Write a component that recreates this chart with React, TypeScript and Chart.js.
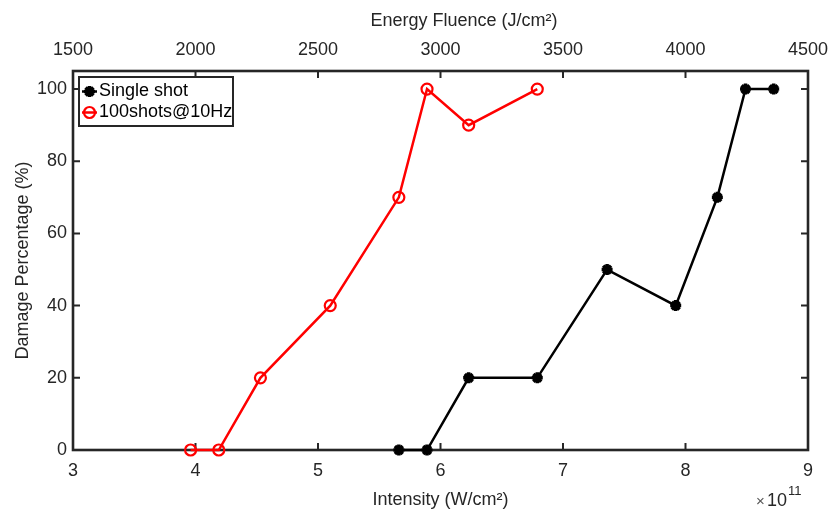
import React, { useEffect, useRef } from 'react';
import { Chart, registerables } from 'chart.js';

Chart.register(...registerables);

// ---- data (intensity in units of 1e11 W/cm^2, damage in %) ----
const seriesLabels = ['Single shot', '100shots@10Hz'];
const singleShotIntensity = [5.66, 5.89, 6.23, 6.79, 7.36, 7.92, 8.26, 8.49, 8.72];
const singleShotDamage = [0, 0, 20, 20, 50, 40, 70, 100, 100];
const multiShotIntensity = [3.96, 4.19, 4.53, 5.10, 5.66, 5.89, 6.23, 6.79];
const multiShotDamage = [0, 0, 20, 40, 70, 100, 90, 100];

const intensityTicks = [3, 4, 5, 6, 7, 8, 9];
const fluenceTicks = [1500, 2000, 2500, 3000, 3500, 4000, 4500];
const damageTicks = [0, 20, 40, 60, 80, 100];

const xTitle = 'Intensity (W/cm²)';
const x2Title = 'Energy Fluence (J/cm²)';
const yTitle = 'Damage Percentage (%)';

const FONT = '"Liberation Sans", Arial, Helvetica, sans-serif';
const INK = '#262626';
const RED = '#ff0000';
const BLACK = '#000000';

function drawStar(ctx: CanvasRenderingContext2D, x: number, y: number, r: number, color: string, w: number) {
  ctx.save();
  ctx.strokeStyle = color;
  ctx.lineWidth = w;
  ctx.beginPath();
  for (let k = 0; k < 4; k++) {
    const a = (k * Math.PI) / 4;
    ctx.moveTo(x - r * Math.cos(a), y - r * Math.sin(a));
    ctx.lineTo(x + r * Math.cos(a), y + r * Math.sin(a));
  }
  ctx.stroke();
  ctx.restore();
}

const framePlugin = {
  id: 'matlabFrame',
  beforeDatasetsDraw(chart: any) {
    const { ctx, chartArea } = chart;
    const { left, right, top, bottom } = chartArea;
    const xs = chart.scales.x;
    const x2 = chart.scales.x2;
    const ys = chart.scales.y;
    const tl = 7;
    ctx.save();
    ctx.strokeStyle = INK;
    ctx.lineWidth = 2;
    ctx.beginPath();
    intensityTicks.forEach((v) => {
      const px = xs.getPixelForValue(v);
      ctx.moveTo(px, bottom);
      ctx.lineTo(px, bottom - tl);
    });
    fluenceTicks.forEach((v) => {
      const px = x2.getPixelForValue(v);
      ctx.moveTo(px, top);
      ctx.lineTo(px, top + tl);
    });
    damageTicks.forEach((v) => {
      const py = ys.getPixelForValue(v);
      ctx.moveTo(left, py);
      ctx.lineTo(left + tl, py);
      ctx.moveTo(right, py);
      ctx.lineTo(right - tl, py);
    });
    ctx.stroke();
    ctx.lineWidth = 2.6;
    ctx.strokeRect(left, top, right - left, bottom - top);
    ctx.restore();
  },
  afterDraw(chart: any) {
    const { ctx, chartArea } = chart;
    ctx.save();
    // top axis title
    ctx.fillStyle = INK;
    ctx.font = `18px ${FONT}`;
    ctx.textAlign = 'center';
    ctx.textBaseline = 'middle';
    ctx.fillText(x2Title, 464, 21);

    // x10^11 exponent
    ctx.textAlign = 'left';
    ctx.fillStyle = '#555555';
    ctx.font = `15px ${FONT}`;
    ctx.fillText('×', 756, 502);
    ctx.fillStyle = INK;
    ctx.font = `18px ${FONT}`;
    ctx.fillText('10', 767, 501);
    ctx.font = `13px ${FONT}`;
    ctx.fillText('11', 788, 491);

    // legend
    const lx = chartArea.left + 6;
    const ly = chartArea.top + 6;
    const lw = 154;
    const lh = 49;
    ctx.fillStyle = '#ffffff';
    ctx.fillRect(lx, ly, lw, lh);
    ctx.strokeStyle = INK;
    ctx.lineWidth = 2;
    ctx.strokeRect(lx, ly, lw, lh);
    const rows = [ly + 14.5, ly + 35.5];
    const mx = lx + 10.5;
    // single shot
    ctx.strokeStyle = BLACK;
    ctx.lineWidth = 2.5;
    ctx.beginPath();
    ctx.moveTo(lx + 3, rows[0]);
    ctx.lineTo(lx + 18, rows[0]);
    ctx.stroke();
    drawStar(ctx, mx, rows[0], 5.5, BLACK, 3.5);
    // multi shot
    ctx.strokeStyle = RED;
    ctx.beginPath();
    ctx.moveTo(lx + 3, rows[1]);
    ctx.lineTo(lx + 18, rows[1]);
    ctx.stroke();
    ctx.lineWidth = 2.2;
    ctx.beginPath();
    ctx.arc(mx, rows[1], 5.5, 0, Math.PI * 2);
    ctx.stroke();
    ctx.fillStyle = BLACK;
    ctx.font = `18px ${FONT}`;
    ctx.textAlign = 'left';
    ctx.textBaseline = 'middle';
    ctx.fillText(seriesLabels[0], lx + 20, rows[0]);
    ctx.fillText(seriesLabels[1], lx + 20, rows[1]);
    ctx.restore();
  },
};

export default function App() {
  const canvasRef = useRef<HTMLCanvasElement | null>(null);

  useEffect(() => {
    document.body.style.margin = '0';
    const canvas = canvasRef.current;
    if (!canvas) return;

    const chart = new Chart(canvas, {
      type: 'scatter',
      data: {
        datasets: [
          {
            label: seriesLabels[0],
            data: singleShotIntensity.map((x, i) => ({ x, y: singleShotDamage[i] })),
            showLine: true,
            borderColor: BLACK,
            backgroundColor: BLACK,
            borderWidth: 2.5,
            pointStyle: 'star',
            pointRadius: 5.5,
            pointBorderWidth: 3.5,
            pointBorderColor: BLACK,
            clip: false as any,
          },
          {
            label: seriesLabels[1],
            data: multiShotIntensity.map((x, i) => ({ x, y: multiShotDamage[i] })),
            showLine: true,
            borderColor: RED,
            backgroundColor: 'rgba(0,0,0,0)',
            borderWidth: 2.5,
            pointStyle: 'circle',
            pointRadius: 5.5,
            pointBorderWidth: 2.2,
            pointBorderColor: RED,
            pointBackgroundColor: 'rgba(0,0,0,0)',
            clip: false as any,
          },
        ],
      },
      options: {
        responsive: false,
        animation: false,
        devicePixelRatio: 1,
        layout: { padding: { left: 0, right: 26, top: 0, bottom: 0 } },
        plugins: {
          legend: { display: false },
          tooltip: { enabled: false },
        },
        scales: {
          x: {
            type: 'linear',
            position: 'bottom',
            min: 3,
            max: 9,
            afterBuildTicks: (s: any) => {
              s.ticks = intensityTicks.map((v) => ({ value: v }));
            },
            ticks: {
              font: { family: FONT, size: 18 },
              color: INK,
              padding: 10,
              maxRotation: 0,
              autoSkip: false,
              callback: (v: any) => String(v),
            },
            grid: { display: false, drawTicks: false },
            border: { display: false },
            title: {
              display: true,
              text: xTitle,
              color: INK,
              font: { family: FONT, size: 18 },
              padding: { top: 0, bottom: 4 },
            },
            afterFit: (s: any) => {
              s.height = 65;
              s.paddingLeft = 0;
              s.paddingRight = 0;
            },
          },
          x2: {
            type: 'linear',
            position: 'top',
            min: 1500,
            max: 4500,
            afterBuildTicks: (s: any) => {
              s.ticks = fluenceTicks.map((v) => ({ value: v }));
            },
            ticks: {
              font: { family: FONT, size: 18 },
              color: INK,
              padding: 10,
              maxRotation: 0,
              autoSkip: false,
              callback: (v: any) => String(v),
            },
            grid: { display: false, drawTicks: false },
            border: { display: false },
            afterFit: (s: any) => {
              s.height = 71;
              s.paddingLeft = 0;
              s.paddingRight = 0;
            },
          },
          y: {
            type: 'linear',
            position: 'left',
            min: 0,
            max: 105,
            afterBuildTicks: (s: any) => {
              s.ticks = damageTicks.map((v) => ({ value: v }));
            },
            ticks: {
              font: { family: FONT, size: 18 },
              color: INK,
              padding: 6,
              autoSkip: false,
              callback: (v: any) => String(v),
            },
            grid: { display: false, drawTicks: false },
            border: { display: false },
            title: {
              display: true,
              text: yTitle,
              color: INK,
              font: { family: FONT, size: 18 },
              padding: { top: 12, bottom: 0 },
            },
            afterFit: (s: any) => {
              s.width = 73;
              s.paddingTop = 0;
              s.paddingBottom = 0;
            },
          },
        },
      } as any,
      plugins: [framePlugin],
    });

    return () => {
      chart.destroy();
    };
  }, []);

  return (
    <div style={{ width: 834, height: 515, background: '#ffffff' }}>
      <canvas ref={canvasRef} width={834} height={515} style={{ display: 'block' }} />
    </div>
  );
}
